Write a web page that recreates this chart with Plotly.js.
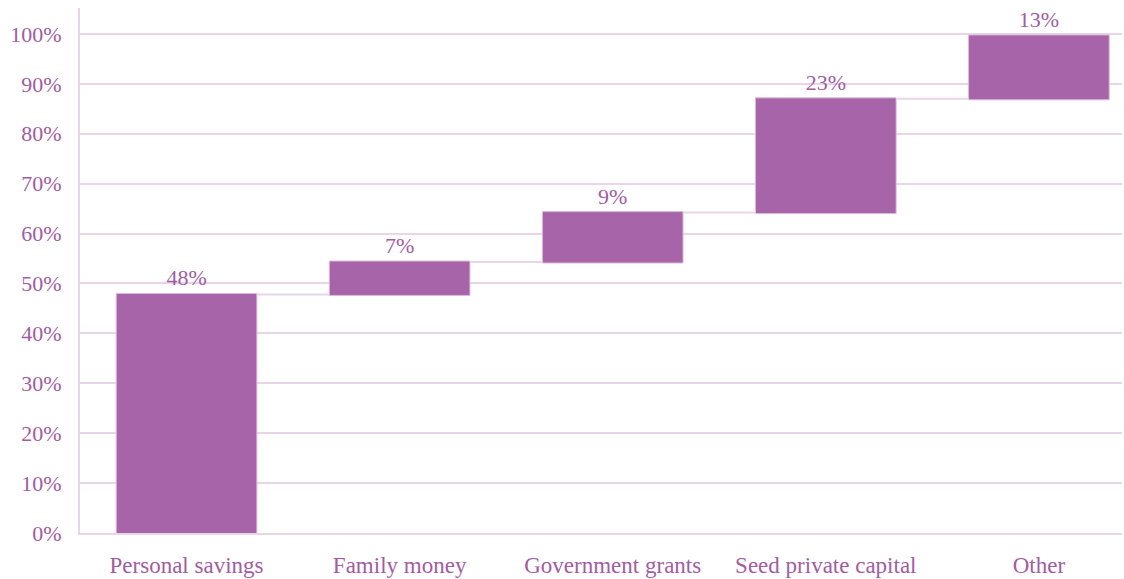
<!DOCTYPE html>
<html>
<head>
<meta charset="utf-8">
<script src="https://cdn.plot.ly/plotly-3.0.1.min.js"></script>
<style>html,body{margin:0;padding:0;background:#fff;}#chart{width:1124px;height:579px;}</style>
</head>
<body>
<div id="chart"></div>
<script>
const categories = ["Personal savings", "Family money", "Government grants", "Seed private capital", "Other"];
const values = [47.8, 6.5, 9.9, 22.8, 12.6];
const valueLabels = ["48%", "7%", "9%", "23%", "13%"];
const yTickValues = [0, 10, 20, 30, 40, 50, 60, 70, 80, 90, 100];

const barColor = "#A864A8";
const textColor = "#A25CA2";
const gridColor = "#E8D6E8";
const serif = "Liberation Serif, Times New Roman, serif";

const trace = {
  type: "waterfall",
  x: categories,
  y: values,
  measure: categories.map(() => "relative"),
  text: valueLabels,
  textposition: "outside",
  textfont: {family: serif, size: 22, color: textColor},
  cliponaxis: false,
  width: 0.66,
  increasing: {marker: {color: barColor, line: {color: "#D9BCD9", width: 1}}},
  connector: {line: {color: gridColor, width: 2}},
  hoverinfo: "x+y"
};

const layout = {
  width: 1124, height: 579,
  margin: {l: 80, r: 2, t: 8, b: 46},
  paper_bgcolor: "#fff", plot_bgcolor: "#fff",
  showlegend: false,
  font: {family: serif, size: 22, color: textColor},
  xaxis: {
    type: "category",
    range: [-0.5, 4.39],
    showgrid: false,
    showline: true, linecolor: gridColor, linewidth: 2,
    ticks: "", ticklabelstandoff: 10,
    tickfont: {family: serif, size: 23, color: textColor},
    zeroline: false
  },
  yaxis: {
    range: [0, 105.2],
    tickvals: yTickValues,
    ticktext: yTickValues.map(v => v + "%"),
    showgrid: true, gridcolor: gridColor, gridwidth: 2,
    showline: true, linecolor: gridColor, linewidth: 2,
    ticks: "", ticklabelstandoff: 12,
    tickfont: {family: serif, size: 22, color: textColor},
    zeroline: false
  }
};

Plotly.newPlot("chart", [trace], layout, {displayModeBar: false, staticPlot: true});
</script>
</body>
</html>
